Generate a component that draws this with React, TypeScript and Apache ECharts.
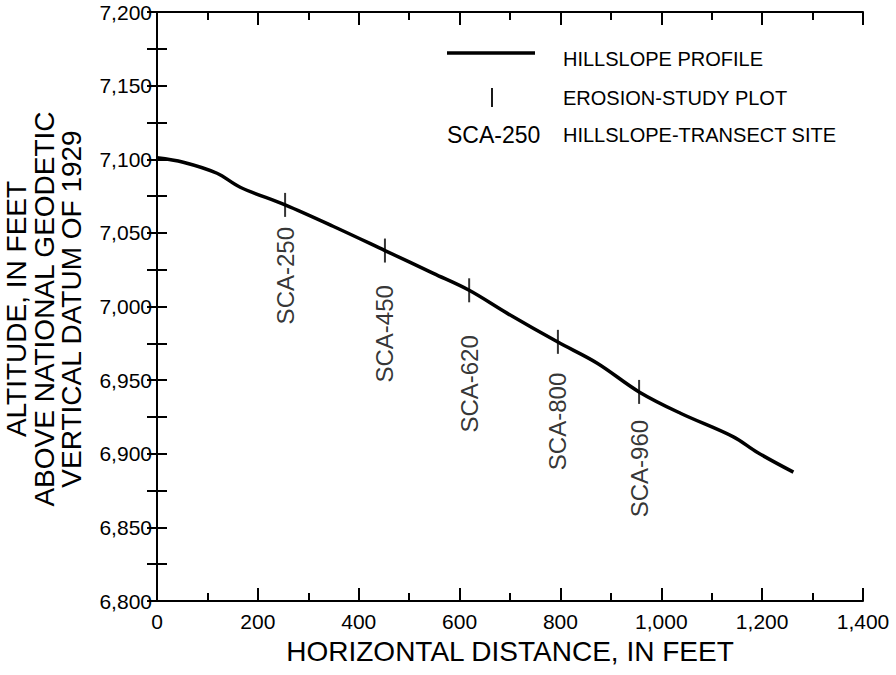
import React, { useEffect, useRef } from "react";
import * as echarts from "echarts";

// Hillslope profile: horizontal distance (ft) vs altitude (ft)
const profileDistance = [0, 52, 119, 165, 254, 349, 452, 548, 619, 694, 794, 873, 956, 1038, 1143, 1190, 1262];
const profileAltitude = [7101, 7098, 7090.5, 7081, 7069, 7054.5, 7038, 7022.5, 7011, 6995.5, 6976, 6961.5, 6942, 6927.5, 6911.5, 6901, 6887.5];

// Erosion-study plots / hillslope-transect sites
const siteNames = ["SCA-250", "SCA-450", "SCA-620", "SCA-800", "SCA-960"];
const siteDistance = [254, 452, 619, 795, 956];
const siteAltitude = [7069, 7038, 7011, 6976, 6942];
const siteLabelTopAltitude = [7054, 7014.5, 6980.5, 6955, 6923];

const xTicks = [0, 200, 400, 600, 800, 1000, 1200, 1400];
const yTicks = [6800, 6850, 6900, 6950, 7000, 7050, 7100, 7150, 7200];

const FONT = "'Liberation Sans', Arial, Helvetica, sans-serif";
const fmt = (v: number) => v.toLocaleString("en-US");

export default function App() {
  const ref = useRef<HTMLDivElement>(null);
  useEffect(() => {
    if (!ref.current) return;
    const chart = echarts.init(ref.current, null, { renderer: "svg" });
    const axisLine = { show: true, lineStyle: { color: "#000", width: 2 } };
    const xCommon = {
      type: "value" as const,
      min: xTicks[0],
      max: xTicks[xTicks.length - 1],
      interval: 200,
      axisLine,
      axisTick: { show: true, inside: true, length: 13, lineStyle: { color: "#000", width: 2 } },
      minorTick: { show: true, splitNumber: 2, length: 8, lineStyle: { color: "#000", width: 2 } },
      splitLine: { show: false },
      minorSplitLine: { show: false },
    };
    const yCommon = {
      type: "value" as const,
      min: yTicks[0],
      max: yTicks[yTicks.length - 1],
      interval: 50,
      axisLine,
      axisTick: { show: true, inside: true, length: 10, lineStyle: { color: "#000", width: 2 } },
      minorTick: { show: true, splitNumber: 2, length: 10, lineStyle: { color: "#000", width: 2 } },
      splitLine: { show: false },
      minorSplitLine: { show: false },
    };
    chart.setOption({
      animation: false,
      backgroundColor: "#fff",
      grid: { left: 157, right: 33, top: 12, bottom: 74, containLabel: false, outerBoundsMode: "none" },
      xAxis: [
        {
          ...xCommon,
          position: "bottom",
          axisLabel: { show: true, color: "#000", fontFamily: FONT, fontSize: 21, margin: 10, formatter: (v: number) => fmt(v) },
          name: "HORIZONTAL DISTANCE, IN FEET",
          nameLocation: "middle",
          nameGap: 36,
          nameTextStyle: { color: "#000", fontFamily: FONT, fontSize: 28 },
        },
        { ...xCommon, position: "top", axisLabel: { show: false } },
      ],
      yAxis: [
        {
          ...yCommon,
          position: "left",
          axisLabel: { show: true, color: "#000", fontFamily: FONT, fontSize: 21, margin: 5, formatter: (v: number) => fmt(v) },
        },
        { ...yCommon, position: "right", axisLabel: { show: false } },
      ],
      series: [
        {
          type: "line",
          data: profileDistance.map((d, i) => [d, profileAltitude[i]]),
          smooth: 0.35,
          showSymbol: false,
          lineStyle: { color: "#000", width: 3.5 },
          z: 3,
        },
        {
          type: "scatter",
          data: siteDistance.map((d, i) => [d, siteAltitude[i]]),
          symbol: "rect",
          symbolSize: [2, 24],
          itemStyle: { color: "#000" },
          z: 4,
        },
        {
          type: "scatter",
          data: siteDistance.map((d, i) => [d, siteLabelTopAltitude[i], siteNames[i]]),
          symbolSize: 1,
          itemStyle: { color: "rgba(0,0,0,0)" },
          label: {
            show: true,
            position: "inside",
            rotate: 90,
            align: "right",
            verticalAlign: "middle",
            color: "#000",
            textBorderWidth: 0,
            fontFamily: FONT,
            fontSize: 24,
            formatter: (p: any) => p.data[2],
          },
          emphasis: { disabled: true },
          z: 5,
        },
      ],
      graphic: [
        {
          type: "text",
          x: 44,
          y: 309,
          rotation: Math.PI / 2,
          style: {
            text: "ALTITUDE, IN FEET\nABOVE NATIONAL GEODETIC\nVERTICAL DATUM OF 1929",
            fill: "#000",
            font: `28px ${FONT}`,
            lineHeight: 27.5,
            align: "center",
            verticalAlign: "middle",
          },
        },
        { type: "line", shape: { x1: 447, y1: 53, x2: 535, y2: 53 }, style: { stroke: "#000", lineWidth: 3.5 } },
        { type: "text", x: 563, y: 59, style: { text: "HILLSLOPE PROFILE", fill: "#000", font: `20px ${FONT}`, verticalAlign: "middle" } },
        { type: "line", shape: { x1: 492, y1: 88, x2: 492, y2: 107 }, style: { stroke: "#000", lineWidth: 1.8 } },
        { type: "text", x: 563, y: 98, style: { text: "EROSION-STUDY PLOT", fill: "#000", font: `20px ${FONT}`, verticalAlign: "middle" } },
        { type: "text", x: 447, y: 135, style: { text: "SCA-250", fill: "#000", font: `23px ${FONT}`, verticalAlign: "middle" } },
        { type: "text", x: 563, y: 135, style: { text: "HILLSLOPE-TRANSECT SITE", fill: "#000", font: `20px ${FONT}`, verticalAlign: "middle" } },
      ],
    });
    return () => chart.dispose();
  }, []);
  return <div ref={ref} style={{ position: "fixed", left: 0, top: 0, width: 896, height: 675 }} />;
}
